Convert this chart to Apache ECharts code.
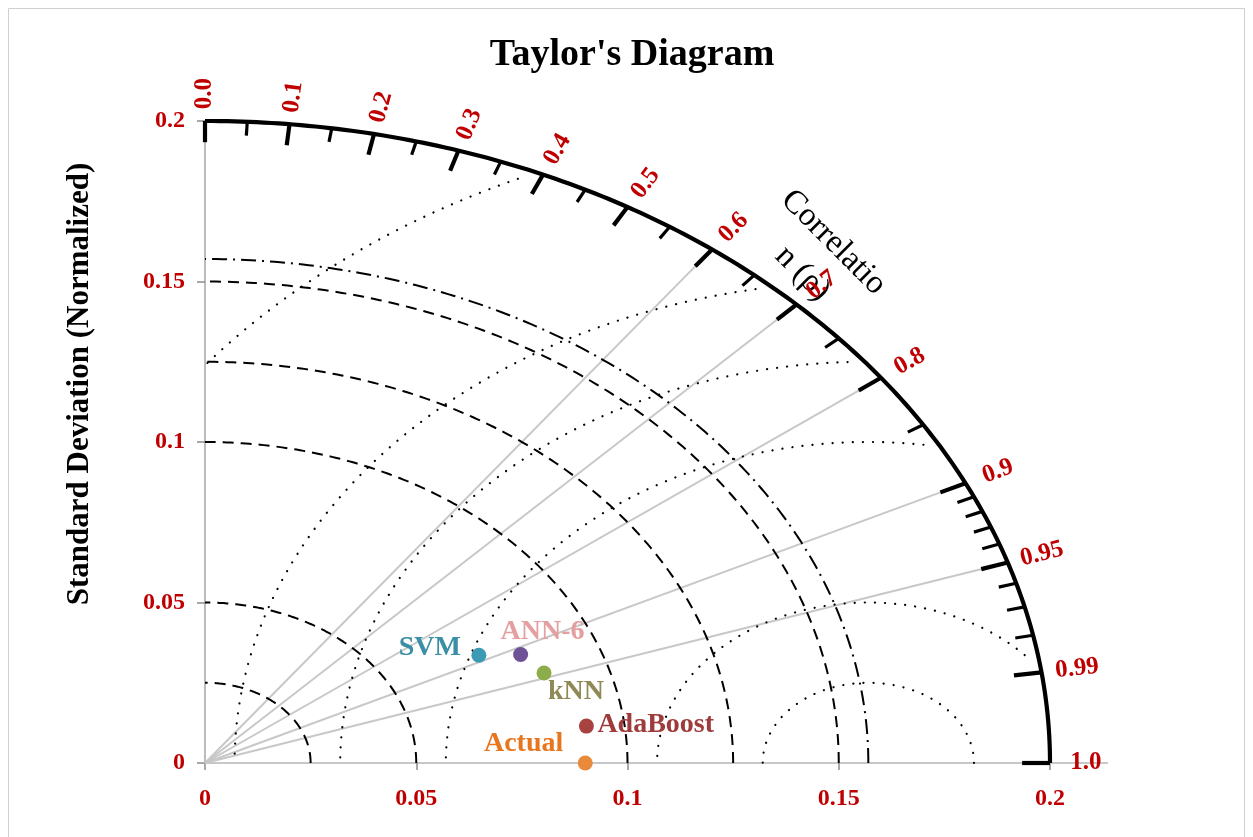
<!DOCTYPE html>
<html>
<head>
<meta charset="utf-8">
<title>Taylor's Diagram</title>
<script src="https://cdn.jsdelivr.net/npm/echarts@6/dist/echarts.min.js"></script>
<style>
  html, body { margin: 0; padding: 0; background: #ffffff; }
  #chart { width: 1253px; height: 837px; }
</style>
</head>
<body>
<div id="chart"></div>
<script>
// ---- model statistics (standard deviation, correlation with observations) ----
const modelNames   = ['Actual', 'AdaBoost', 'kNN', 'ANN-6', 'SVM'];
const stdDevs      = [0.090, 0.091, 0.085, 0.082, 0.073];
const correlations = [1.000, 0.992, 0.944, 0.911, 0.888];
const markerColors = ['#e8893c', '#a8423f', '#8cae4a', '#6f5196', '#3d9ab5'];
const labelColors  = ['#e8761e', '#9e3b3b', '#8f8a55', '#e4a0a0', '#3a8ea5'];

// ---- diagram grid definition ----
const axisMax   = 0.2;
const axisStep  = 0.05;
const refStd    = 0.157;                                   // reference standard deviation
const stdArcs   = [0.025, 0.05, 0.1, 0.125, 0.15];         // dashed std-dev circles
const rmsLevels = [0.025, 0.05, 0.1, 0.125, 0.15, 0.2];    // dotted centred-RMS circles
const corrRays  = [0.6, 0.7, 0.8, 0.9, 0.95];              // grey correlation rays
const corrMajor = [0.0, 0.1, 0.2, 0.3, 0.4, 0.5, 0.6, 0.7, 0.8, 0.9, 0.95, 0.99, 1.0];
const corrMajorLabels = ['0.0', '0.1', '0.2', '0.3', '0.4', '0.5', '0.6', '0.7', '0.8', '0.9', '0.95', '0.99', '1.0'];
const corrMinor = [0.05, 0.15, 0.25, 0.35, 0.45, 0.55, 0.65, 0.75, 0.85,
                   0.91, 0.92, 0.93, 0.94, 0.96, 0.97, 0.98];

// ---- styling ----
const SERIF = '"Liberation Serif", "Times New Roman", serif';
const RED = '#c00000';
const majorLen = 0.0066, minorLen = 0.0043;   // tick lengths, data units
const labelGap = 0.0085;                      // corr label centre beyond the arc
const rmsClip  = 0.197;                       // RMS contours stop just inside the arc
const xAxisOverhang = 0.2137;                 // baseline runs a little past the arc

// label placement for each model (relative to marker centre, px)
const labelLayout = [
  { align: 'right', offset: [-22, -19] },
  { align: 'left',  offset: [11, -1] },
  { align: 'left',  offset: [4, 19] },
  { align: 'left',  offset: [-20, -23] },
  { align: 'right', offset: [-18, -7] }
];

// (std, corr) -> cartesian data point
function polar(r, c) {
  return [r * c, r * Math.sqrt(Math.max(0, 1 - c * c))];
}

function arcPoints(api, r) {
  const pts = [];
  for (let i = 0; i <= 180; i++) {
    const t = (Math.PI / 2) * i / 180;
    pts.push(api.coord([r * Math.cos(t), r * Math.sin(t)]));
  }
  return pts;
}

// circle of radius R around (refStd, 0), clipped to the quadrant inside rmsClip
function rmsSegments(api, R) {
  const segs = [];
  let cur = [];
  const n = 720;
  for (let i = 0; i <= n; i++) {
    const t = Math.PI * i / n;
    const x = refStd + R * Math.cos(t);
    const y = R * Math.sin(t);
    const ok = x >= 0 && Math.hypot(x, y) <= rmsClip;
    if (ok) cur.push(api.coord([x, y]));
    else if (cur.length) { segs.push(cur); cur = []; }
  }
  if (cur.length) segs.push(cur);
  return segs;
}

const chart = echarts.init(document.getElementById('chart'), null, { renderer: 'canvas' });

const option = {
  backgroundColor: '#ffffff',
  animation: false,
  grid: { left: 205, top: 121, width: 845, height: 642, containLabel: false },
  xAxis: {
    type: 'value', min: 0, max: axisMax, interval: axisStep,
    axisLine: { show: true, lineStyle: { color: '#c8c8c8', width: 2 } },
    axisTick: { show: true, inside: false, length: 7, lineStyle: { color: '#8c8c8c', width: 1.5 } },
    axisLabel: { color: RED, fontFamily: SERIF, fontWeight: 'bold', fontSize: 24, margin: 24 },
    splitLine: { show: false }
  },
  yAxis: {
    type: 'value', min: 0, max: axisMax, interval: axisStep,
    axisLine: { show: true, lineStyle: { color: '#a6a6a6', width: 1.5 } },
    axisTick: { show: true, inside: false, length: 8, lineStyle: { color: '#8c8c8c', width: 1.5 } },
    axisLabel: { color: RED, fontFamily: SERIF, fontWeight: 'bold', fontSize: 24, margin: 20 },
    splitLine: { show: false }
  },
  graphic: [
    {
      type: 'rect', silent: true, z: -10,
      shape: { x: 8.5, y: 8.5, width: 1236, height: 840 },
      style: { fill: 'none', stroke: '#d0d0d0', lineWidth: 1 }
    },
    {
      type: 'text', x: 632, y: 55, z: 20,
      style: { text: "Taylor's Diagram", fill: '#000', fontFamily: SERIF, fontWeight: 'bold',
               fontSize: 38, align: 'center', verticalAlign: 'middle' }
    },
    {
      type: 'text', x: 80, y: 384, rotation: Math.PI / 2, z: 20,
      style: { text: 'Standard Deviation (Normalized)', fill: '#000', fontFamily: SERIF, fontWeight: 'bold',
               fontSize: 31, align: 'center', verticalAlign: 'middle' }
    },
    {
      type: 'text', x: 818, y: 258, rotation: -Math.PI / 4, z: 3,
      style: { text: 'Correlatio\nn (\u03c1)', fill: '#000', fontFamily: SERIF,
               fontSize: 33, lineHeight: 44, align: 'center', verticalAlign: 'middle' }
    }
  ],
  series: [
    // baseline continuation past the arc
    {
      type: 'custom', clip: false, silent: true, z: 1,
      data: [[axisMax, 0]],
      renderItem: function (params, api) {
        const a = api.coord([axisMax, 0]), b = api.coord([xAxisOverhang, 0]);
        return { type: 'line', shape: { x1: a[0], y1: a[1], x2: b[0], y2: b[1] },
                 style: { stroke: '#c8c8c8', lineWidth: 2 } };
      }
    },
    // grey correlation rays
    {
      type: 'custom', clip: false, silent: true, z: 2,
      data: corrRays.map(c => [c, 0]),
      renderItem: function (params, api) {
        const c = corrRays[params.dataIndex];
        const o = api.coord([0, 0]), p = api.coord(polar(axisMax, c));
        return { type: 'line', shape: { x1: o[0], y1: o[1], x2: p[0], y2: p[1] },
                 style: { stroke: '#c8c8c8', lineWidth: 2 } };
      }
    },
    // dashed standard deviation arcs
    {
      type: 'custom', clip: false, silent: true, z: 3,
      data: stdArcs.map(r => [r, 0]),
      renderItem: function (params, api) {
        return { type: 'polyline', shape: { points: arcPoints(api, stdArcs[params.dataIndex]) },
                 style: { fill: 'none', stroke: '#000', lineWidth: 2, lineDash: [11, 7] } };
      }
    },
    // dash-dot reference arc
    {
      type: 'custom', clip: false, silent: true, z: 3,
      data: [[refStd, 0]],
      renderItem: function (params, api) {
        return { type: 'polyline', shape: { points: arcPoints(api, refStd) },
                 style: { fill: 'none', stroke: '#000', lineWidth: 2, lineDash: [15, 6, 2, 6] } };
      }
    },
    // dotted centred-RMS difference circles
    {
      type: 'custom', clip: false, silent: true, z: 3,
      data: rmsLevels.map(r => [r, 0]),
      renderItem: function (params, api) {
        const segs = rmsSegments(api, rmsLevels[params.dataIndex]);
        return {
          type: 'group',
          children: segs.map(pts => ({
            type: 'polyline', shape: { points: pts },
            style: { fill: 'none', stroke: '#000', lineWidth: 2.2, lineCap: 'round', lineDash: [0.1, 10] }
          }))
        };
      }
    },
    // outer correlation arc
    {
      type: 'custom', clip: false, silent: true, z: 4,
      data: [[axisMax, 0]],
      renderItem: function (params, api) {
        return { type: 'polyline', shape: { points: arcPoints(api, axisMax) },
                 style: { fill: 'none', stroke: '#000', lineWidth: 4.2 } };
      }
    },
    // major ticks
    {
      type: 'custom', clip: false, silent: true, z: 4,
      data: corrMajor.map(c => [c, 0]),
      renderItem: function (params, api) {
        const c = corrMajor[params.dataIndex];
        const a = api.coord(polar(axisMax, c)), b = api.coord(polar(axisMax - majorLen, c));
        return { type: 'line', shape: { x1: a[0], y1: a[1], x2: b[0], y2: b[1] },
                 style: { stroke: '#000', lineWidth: 4.2 } };
      }
    },
    // minor ticks
    {
      type: 'custom', clip: false, silent: true, z: 4,
      data: corrMinor.map(c => [c, 0]),
      renderItem: function (params, api) {
        const c = corrMinor[params.dataIndex];
        const a = api.coord(polar(axisMax, c)), b = api.coord(polar(axisMax - minorLen, c));
        return { type: 'line', shape: { x1: a[0], y1: a[1], x2: b[0], y2: b[1] },
                 style: { stroke: '#000', lineWidth: 3.2 } };
      }
    },
    // correlation tick labels, oriented along each ray
    {
      type: 'custom', clip: false, silent: true, z: 6,
      data: corrMajor.map(c => [c, 0]),
      renderItem: function (params, api) {
        const i = params.dataIndex, c = corrMajor[i];
        const o = api.coord([0, 0]);
        const p = api.coord(polar(axisMax + labelGap, c));
        const ang = Math.atan2(o[1] - p[1], p[0] - o[0]);
        return {
          type: 'text', x: p[0], y: p[1], rotation: ang,
          style: { text: corrMajorLabels[i], fill: RED, fontFamily: SERIF, fontWeight: 'bold',
                   fontSize: 25, align: 'center', verticalAlign: 'middle' }
        };
      }
    },
    // model points
    {
      type: 'scatter', z: 10, symbol: 'circle', symbolSize: 15,
      data: modelNames.map((name, i) => ({
        name: name,
        value: polar(stdDevs[i], correlations[i]),
        itemStyle: { color: markerColors[i], opacity: 1 },
        label: Object.assign({ color: labelColors[i] }, labelLayout[i])
      })),
      label: {
        show: true, position: 'inside', formatter: '{b}',
        fontFamily: SERIF, fontWeight: 'bold', fontSize: 28, verticalAlign: 'middle'
      },
      emphasis: { disabled: true }
    }
  ]
};

chart.setOption(option);
</script>
</body>
</html>
